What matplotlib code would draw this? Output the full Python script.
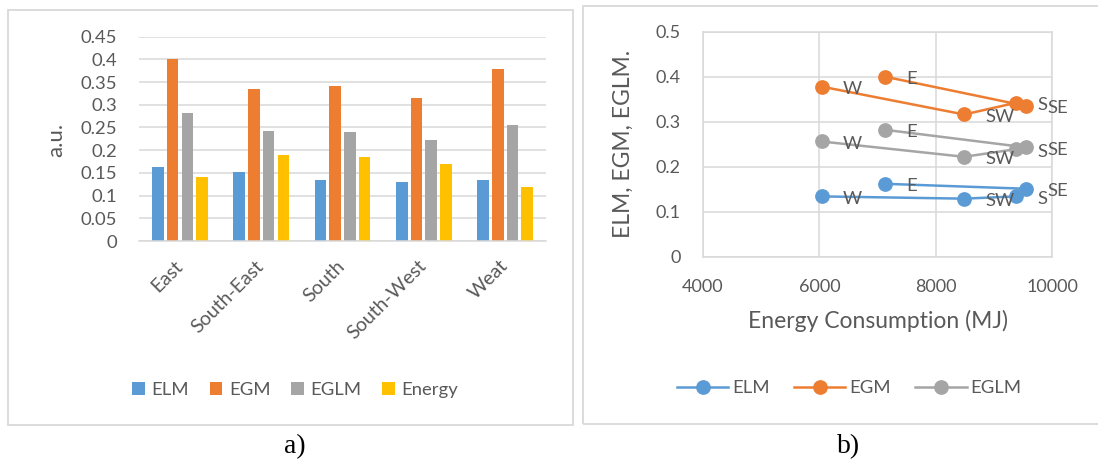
"""Orientation comparison: ELM / EGM / EGLM bars and the energy scatter."""

import matplotlib
matplotlib.use("Agg")
import matplotlib.pyplot as plt
import numpy as np
from matplotlib.patches import Rectangle

plt.rcParams["font.family"] = ["Lato", "DejaVu Sans"]

# ---- data ------------------------------------------------------------------
DIRECTIONS = ["East", "South-East", "South", "South-West", "Weat"]
POINT_LABELS = ["E", "SE", "S", "SW", "W"]
ELM = [0.162, 0.151, 0.134, 0.129, 0.134]
EGM = [0.400, 0.335, 0.342, 0.316, 0.378]
EGLM = [0.282, 0.243, 0.239, 0.222, 0.256]
ENERGY_AU = [0.141, 0.189, 0.186, 0.169, 0.120]
ENERGY_MJ = [7130, 9550, 9380, 8490, 6040]

COLORS = {"ELM": "#5B9BD5", "EGM": "#ED7D31", "EGLM": "#A5A5A5", "Energy": "#FFC000"}
TEXT = "#595959"
GRID = "#D9D9D9"

W, H = 1098, 461


def px_box(x0, y0, x1, y1):
    """Pixel box (top-left origin) -> figure-fraction rect."""
    return [x0 / W, 1 - y1 / H, (x1 - x0) / W, (y1 - y0) / H]


def panel(fig, x0, y0, x1, y1):
    fig.patches.append(Rectangle((x0 / W, 1 - y1 / H), (x1 - x0) / W, (y1 - y0) / H,
                                 transform=fig.transFigure, fill=False,
                                 edgecolor=GRID, lw=1.3))


def plot_bars(fig):
    ax = fig.add_axes(px_box(139.3, 36.7, 545.8, 241))
    x = np.arange(len(DIRECTIONS))
    series = [("ELM", ELM), ("EGM", EGM), ("EGLM", EGLM), ("Energy", ENERGY_AU)]
    for i, (name, vals) in enumerate(series):
        ax.bar(x + (i - 1.5) * 0.181, vals, width=0.141, color=COLORS[name],
               label=name, zorder=2)

    ax.set_xlim(-0.5, len(DIRECTIONS) - 0.5)
    ax.set_ylim(0, 0.45)
    yt = np.round(np.arange(0, 0.451, 0.05), 2)
    ax.set_yticks(yt, [f"{v:g}" for v in yt])
    ax.set_xticks(x, DIRECTIONS, rotation=45, ha="right", va="center",
                  rotation_mode="anchor")
    ax.tick_params(axis="y", length=0, pad=16, labelsize=13.3, labelcolor=TEXT)
    ax.tick_params(axis="x", length=0, pad=16, labelsize=14, labelcolor=TEXT)
    ax.yaxis.grid(True, color=GRID, lw=1.1)
    ax.set_axisbelow(True)
    for side in ("top", "right", "left"):
        ax.spines[side].set_visible(False)
    ax.spines["bottom"].set_color(GRID)
    ax.spines["bottom"].set_linewidth(1.1)
    ax.set_ylabel("a.u.", fontsize=16, color=TEXT)
    ax.yaxis.set_label_coords(66 / W, 1 - 140 / H, transform=fig.transFigure)

    ax.legend(loc="center", bbox_to_anchor=(295 / W, 1 - 390 / H),
              bbox_transform=fig.transFigure, ncol=4, frameon=False,
              handlelength=0.7, handleheight=0.7, handletextpad=0.35,
              columnspacing=1.1, fontsize=13.3, labelcolor=TEXT)


def plot_scatter(fig):
    ax = fig.add_axes(px_box(703, 31.7, 1052, 256.7))
    for name, vals in [("ELM", ELM), ("EGM", EGM), ("EGLM", EGLM)]:
        ax.plot(ENERGY_MJ, vals, "-o", color=COLORS[name], lw=1.8, ms=9.6,
                label=name, zorder=3)
        for xv, yv, lab in zip(ENERGY_MJ, vals, POINT_LABELS):
            ax.annotate(lab, (xv, yv), xytext=(15.5, -1.8), textcoords="offset points",
                        ha="left", va="center", fontsize=13.3, color=TEXT, zorder=4)

    ax.set_xlim(4000, 10000)
    ax.set_ylim(0, 0.5)
    ax.set_xticks(np.arange(4000, 10001, 2000))
    yt = np.round(np.arange(0, 0.51, 0.1), 1)
    ax.set_yticks(yt, [f"{v:g}" for v in yt])
    ax.tick_params(length=0, pad=16, labelsize=13, labelcolor=TEXT)
    ax.grid(True, color=GRID, lw=1.1)
    ax.set_axisbelow(True)
    for sp in ax.spines.values():
        sp.set_color(GRID)
        sp.set_linewidth(1.1)
    ax.set_xlabel("Energy Consumption (MJ)", fontsize=16.5, color=TEXT)
    ax.xaxis.set_label_coords(877.5 / W, 1 - 310 / H, transform=fig.transFigure)
    ax.set_ylabel("ELM, EGM, EGLM.", fontsize=16.5, color=TEXT)
    ax.yaxis.set_label_coords(634 / W, 1 - 144 / H, transform=fig.transFigure)

    ax.legend(loc="center", bbox_to_anchor=(849 / W, 1 - 388.3 / H),
              bbox_transform=fig.transFigure, ncol=3, frameon=False,
              handlelength=2.8, handletextpad=0.2, columnspacing=1.3,
              fontsize=13.3, labelcolor=TEXT)


def main():
    fig = plt.figure(figsize=(W / 100, H / 100), dpi=100)
    panel(fig, 8, 10, 573, 425)
    panel(fig, 583, 6, 1104, 424)
    plot_bars(fig)
    plot_scatter(fig)
    for label, xc in [("a)", 295), ("b)", 849)]:
        fig.text(xc / W, 1 - 453 / H, label, family="Liberation Serif", fontsize=20,
                 ha="center", va="baseline", color="black")
    fig.savefig("out.png", dpi=100, facecolor="white")


if __name__ == "__main__":
    main()
